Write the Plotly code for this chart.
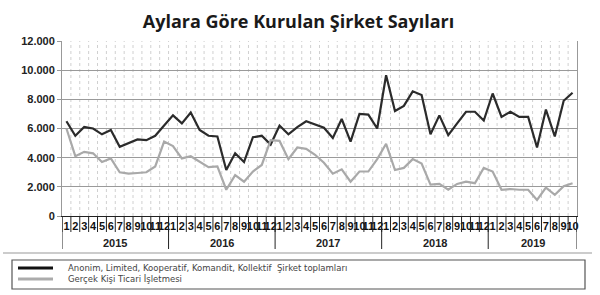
import plotly.graph_objects as go

years = ["2015", "2016", "2017", "2018", "2019"]
months_per_year = [12, 12, 12, 12, 10]

sirket = [6500, 5500, 6100, 6000, 5600, 5900, 4750, 5000, 5250, 5200, 5500, 6200,
          6900, 6350, 7100, 5900, 5500, 5450, 3150, 4300, 3700, 5400, 5500, 4900,
          6200, 5600, 6100, 6500, 6300, 6050, 5350, 6650, 5100, 7000, 6950, 6000,
          9650, 7200, 7550, 8550, 8300, 5600, 6900, 5550, 6350, 7150, 7150, 6550,
          8400, 6800, 7150, 6800, 6800, 4700, 7300, 5450, 7900, 8450]
gercek = [6000, 4100, 4400, 4300, 3700, 3950, 3000, 2900, 2950, 3000, 3400, 5100,
          4800, 3950, 4100, 3750, 3350, 3400, 1800, 2800, 2350, 3050, 3500, 5200,
          5150, 3900, 4700, 4600, 4200, 3650, 2900, 3200, 2350, 3050, 3050, 3900,
          4950, 3150, 3300, 3900, 3600, 2150, 2200, 1800, 2200, 2350, 2250, 3300,
          3050, 1800, 1850, 1800, 1800, 1100, 1950, 1450, 2050, 2250]

names = ["Anonim, Limited, Kooperatif, Komandit, Kollektif  Şirket toplamları",
         "Gerçek Kişi Ticari İşletmesi"]
colors = ["#2b2b2b", "#a9a9a9"]
legend_colors = ["#111111", "#ababab"]

month_labels = []
for n in months_per_year:
    month_labels += [str(m) for m in range(1, n + 1)]
x = list(range(len(month_labels)))
n_total = len(x)

L, T, W, H = 62, 41, 515, 175.0
def py(px):  # pixel offset below axis -> paper y
    return -px / H
def px_(xpix):  # absolute pixel x -> paper x
    return (xpix - L) / W

fig = go.Figure()
for name, ys, c in zip(names, [sirket, gercek], colors):
    fig.add_trace(go.Scatter(x=x, y=ys, mode="lines", name=name,
                             line=dict(color=c, width=2.2)))

shapes = []
for i in range(1, n_total):
    shapes.append(dict(type="line", xref="x", yref="paper", x0=i - 0.5, x1=i - 0.5,
                       y0=0, y1=1, line=dict(color="#d0d0d0", width=1, dash="dot"),
                       layer="below"))
for i in range(0, n_total + 1):
    shapes.append(dict(type="line", xref="x", yref="paper", x0=i - 0.5, x1=i - 0.5,
                       y0=0, y1=py(16), line=dict(color="#222", width=1)))
annotations = []
start = 0
bounds = [0]
for yr, n in zip(years, months_per_year):
    annotations.append(dict(x=start + (n - 1) / 2, y=py(27), xref="x", yref="paper",
                            text="<b>%s</b>" % yr, showarrow=False,
                            font=dict(family="Liberation Sans", size=11, color="#222"),
                            yanchor="middle"))
    start += n
    bounds.append(start)
for b in bounds:
    shapes.append(dict(type="line", xref="x", yref="paper", x0=b - 0.5, x1=b - 0.5,
                       y0=0, y1=py(33), line=dict(color="#222", width=1)))
shapes.append(dict(type="line", xref="paper", yref="paper",
                   x0=px_(3), x1=px_(592), y0=py(37), y1=py(37),
                   line=dict(color="#bbbbbb", width=1.5)))
# legend box
shapes.append(dict(type="rect", xref="paper", yref="paper",
                   x0=px_(12), x1=px_(585), y0=py(44), y1=py(73),
                   line=dict(color="#555", width=1.2), fillcolor="rgba(0,0,0,0)"))
# legend entries
for k, (name, c) in enumerate(zip(names, legend_colors)):
    yy = py(52 + 11 * k)
    shapes.append(dict(type="line", xref="paper", yref="paper",
                       x0=px_(18), x1=px_(53), y0=yy, y1=yy,
                       line=dict(color=c, width=3)))
    annotations.append(dict(x=px_(66), y=yy, xref="paper", yref="paper",
                            text=name, showarrow=False, xanchor="left", yanchor="middle",
                            font=dict(family="DejaVu Sans", size=8.5, color="#444")))

fig.update_layout(
    width=600, height=295,
    margin=dict(l=L, r=600 - L - W, t=T, b=295 - T - int(H), autoexpand=False),
    paper_bgcolor="white", plot_bgcolor="white",
    separators=",.",
    title=dict(text="<b>Aylara Göre Kurulan Şirket Sayıları</b>", x=298.5 / 600, xanchor="center",
               y=1 - 21.5 / 295, yanchor="middle",
               font=dict(family="Open Sans", size=18, color="#1a1a1a")),
    shapes=shapes, annotations=annotations,
    showlegend=False,
)
fig.update_xaxes(range=[-0.5, n_total - 0.5], tickvals=x, ticktext=month_labels,
                 tickangle=0, ticks="", showgrid=False, zeroline=False,
                 showline=True, linecolor="#222", linewidth=1,
                 tickfont=dict(family="Liberation Sans", size=11, color="#111", weight="bold"))
fig.update_yaxes(range=[0, 12000], dtick=2000, tickformat=",d",
                 showgrid=True, gridcolor="#9a9a9a", gridwidth=1,
                 zeroline=False, showline=True, linecolor="#999", mirror=True,
                 ticks="outside", ticklen=4, tickcolor="#999",
                 tickfont=dict(family="Liberation Sans", size=11, color="#222", weight="bold"))

fig.write_html("out.html")
